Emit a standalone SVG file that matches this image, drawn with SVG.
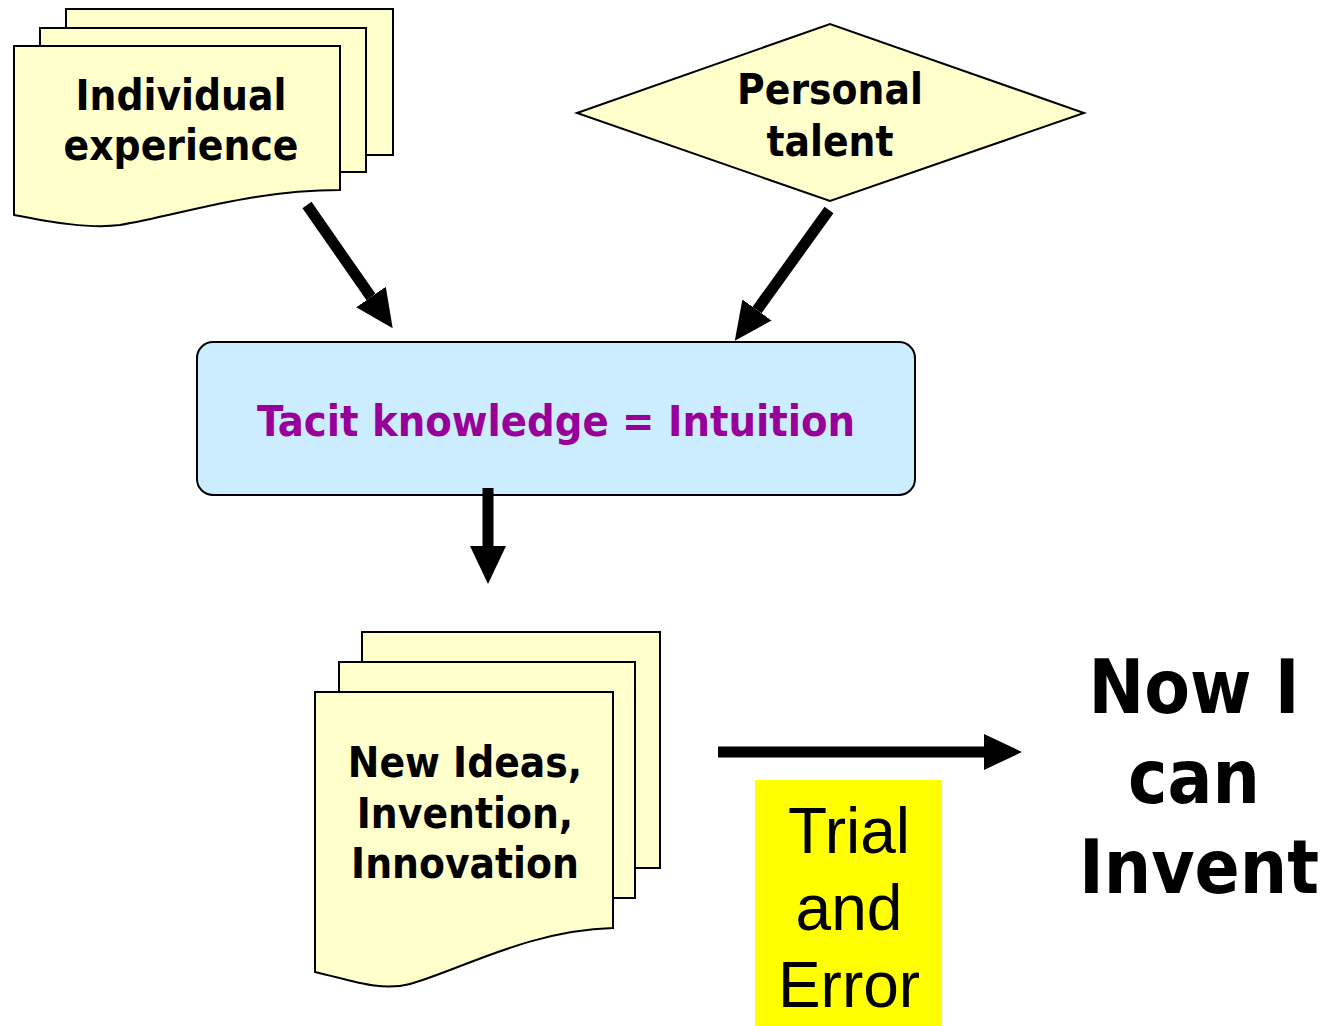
<svg xmlns="http://www.w3.org/2000/svg" width="1323" height="1026" viewBox="0 0 1323 1026">
  <style>
    .page { fill: #FFFFCC; stroke: #000; stroke-width: 2; stroke-linejoin: miter; }
    .lbl { font-family: "DejaVu Sans Condensed", "DejaVu Sans", sans-serif; font-stretch: condensed; font-weight: bold; fill: #000; text-anchor: middle; }
    .plain { font-family: "Liberation Sans", Arial, sans-serif; font-size: 64px; fill: #000; text-anchor: middle; }
    .conn { stroke: #000; stroke-width: 11; fill: none; }
  </style>
  <defs>
    <marker id="head" markerUnits="userSpaceOnUse" markerWidth="38" markerHeight="36" viewBox="0 0 38 36" refX="0" refY="18" orient="auto">
      <path d="M0,0 L38,18 L0,36 Z" fill="#000"/>
    </marker>
  </defs>
  <rect width="1323" height="1026" fill="#fff"/>

  <!-- Multi-page document: Individual experience -->
  <g id="individual-experience">
    <rect class="page" x="66" y="9" width="327" height="146"/>
    <rect class="page" x="40" y="28" width="326" height="144"/>
    <path class="page" d="M14,46 H340 V190 C 250,190 180,215 120,225 C 90,229 50,222 14,215 Z"/>
    <text class="lbl" font-size="42" x="181" y="110">Individual</text>
    <text class="lbl" font-size="42" x="181" y="160">experience</text>
  </g>

  <!-- Decision diamond: Personal talent -->
  <g id="personal-talent">
    <polygon class="page" points="577,113 830,24 1084,113 830,201"/>
    <text class="lbl" font-size="42" x="830" y="104">Personal</text>
    <text class="lbl" font-size="42" x="830" y="156">talent</text>
  </g>

  <!-- Process box: Tacit knowledge -->
  <g id="tacit-knowledge">
    <rect x="197" y="342" width="718" height="153" rx="16" ry="16" fill="#CCECFF" stroke="#000" stroke-width="2"/>
    <text class="lbl" font-size="43" x="556" y="436" style="fill:#990099">Tacit knowledge = Intuition</text>
  </g>

  <!-- Multi-page document: New Ideas -->
  <g id="new-ideas">
    <rect class="page" x="362" y="632" width="298" height="236"/>
    <rect class="page" x="339" y="662" width="296" height="236"/>
    <path class="page" d="M315,692 H613 V928 C 530,930 460,970 410,984 C 380,992 350,980 315,972 Z"/>
    <text class="lbl" font-size="42" x="465" y="777">New Ideas,</text>
    <text class="lbl" font-size="42" x="465" y="828">Invention,</text>
    <text class="lbl" font-size="42" x="465" y="878">Innovation</text>
  </g>

  <!-- Highlighted label: Trial and Error -->
  <g id="trial-and-error">
    <rect x="755" y="780" width="187" height="246" fill="#FFFF00"/>
    <text class="plain" x="849" y="853">Trial</text>
    <text class="plain" x="849" y="930">and</text>
    <text class="plain" x="849" y="1007">Error</text>
  </g>

  <!-- Outcome text -->
  <g id="now-i-can-invent">
    <text class="lbl" font-size="74" x="1194" y="713">Now I</text>
    <text class="lbl" font-size="74" x="1194" y="803">can</text>
    <text class="lbl" font-size="74" x="1199" y="893">Invent</text>
  </g>

  <!-- Connectors -->
  <g id="connectors">
    <line class="conn" x1="307" y1="205" x2="371" y2="297" marker-end="url(#head)"/>
    <line class="conn" x1="829" y1="210" x2="757" y2="310" marker-end="url(#head)"/>
    <line class="conn" x1="488" y1="488" x2="488" y2="546" marker-end="url(#head)"/>
    <line class="conn" x1="718" y1="752" x2="984" y2="752" marker-end="url(#head)"/>
  </g>
</svg>
